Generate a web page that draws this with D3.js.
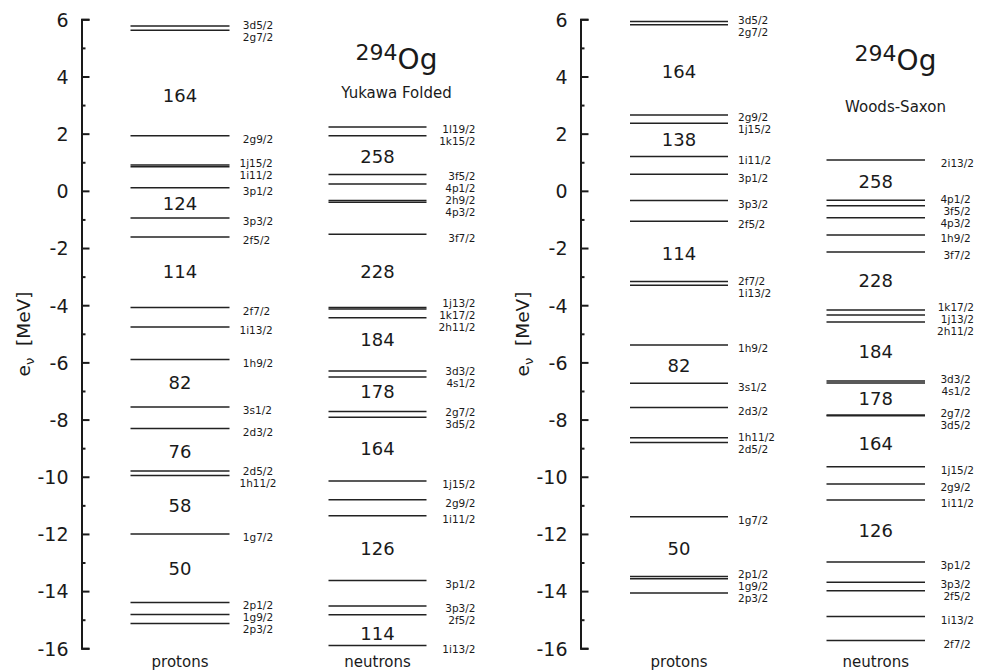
<!DOCTYPE html>
<html>
<head>
<meta charset="utf-8">
<script src="https://cdn.jsdelivr.net/npm/d3@7"></script>
<style>
  html, body { margin: 0; padding: 0; background: #fff; }
  svg { display: block; font-family: "DejaVu Sans", sans-serif; }
</style>
</head>
<body>
<svg id="chart" width="988" height="670"></svg>
<script>
// ---------------- DATA ----------------
const nucleus = { mass: "294", symbol: "Og" };
const models = ["Yukawa Folded", "Woods-Saxon"];
const columnTitles = ["protons", "neutrons"];
const yTicksMajor = [-16, -14, -12, -10, -8, -6, -4, -2, 0, 2, 4, 6];
const yTicksMinor = [-15, -13, -11, -9, -7, -5, -3, -1, 1, 3, 5];

// Yukawa Folded – protons
const protonNamesYF = ["3d5/2","2g7/2","2g9/2","1j15/2","1i11/2","3p1/2","3p3/2","2f5/2","2f7/2","1i13/2","1h9/2","3s1/2","2d3/2","2d5/2","1h11/2","1g7/2","2p1/2","1g9/2","2p3/2"];
const protonEnergyYF = [5.77,5.62,1.93,0.90,0.84,0.11,-0.95,-1.61,-4.08,-4.76,-5.90,-7.56,-8.31,-9.80,-9.96,-12.0,-14.40,-14.82,-15.13];
const protonMagicYF = [164,124,114,82,76,58,50];
const protonMagicEnergyYF = [3.35,-0.43,-2.83,-6.71,-9.12,-11.0,-13.2];

// Yukawa Folded – neutrons
const neutronNamesYF = ["1l19/2","1k15/2","3f5/2","4p1/2","2h9/2","4p3/2","3f7/2","1j13/2","1k17/2","2h11/2","3d3/2","4s1/2","2g7/2","3d5/2","1j15/2","2g9/2","1i11/2","3p1/2","3p3/2","2f5/2","1i13/2"];
const neutronEnergyYF = [2.23,1.93,0.57,0.24,-0.34,-0.40,-1.52,-4.08,-4.13,-4.44,-6.30,-6.51,-7.72,-7.92,-10.15,-10.80,-11.36,-13.63,-14.52,-14.83,-15.90];
const neutronMagicYF = [258,228,184,178,164,126,114];
const neutronMagicEnergyYF = [1.20,-2.83,-5.21,-7.02,-9.0,-12.5,-15.49];

// Woods-Saxon – protons
const protonNamesWS = ["3d5/2","2g7/2","2g9/2","1j15/2","1i11/2","3p1/2","3p3/2","2f5/2","2f7/2","1i13/2","1h9/2","3s1/2","2d3/2","1h11/2","2d5/2","1g7/2","2p1/2","1g9/2","2p3/2"];
const protonEnergyWS = [5.92,5.81,2.65,2.36,1.20,0.58,-0.34,-1.06,-3.17,-3.30,-5.39,-6.73,-7.58,-8.64,-8.80,-11.40,-13.49,-13.57,-14.07];
const protonMagicWS = [164,138,114,82,50];
const protonMagicEnergyWS = [4.17,1.78,-2.18,-6.11,-12.52];

// Woods-Saxon – neutrons
const neutronNamesWS = ["2i13/2","4p1/2","3f5/2","4p3/2","1h9/2","3f7/2","1k17/2","1j13/2","2h11/2","3d3/2","4s1/2","2g7/2","3d5/2","1j15/2","2g9/2","1i11/2","3p1/2","3p3/2","2f5/2","1i13/2","2f7/2"];
const neutronEnergyWS = [1.08,-0.33,-0.52,-0.94,-1.54,-2.14,-4.17,-4.34,-4.59,-6.65,-6.72,-7.84,-7.87,-9.65,-10.25,-10.81,-12.98,-13.69,-13.99,-14.89,-15.73];
const neutronMagicWS = [258,228,184,178,164,126];
const neutronMagicEnergyWS = [0.32,-3.12,-5.62,-7.28,-8.83,-11.89];

// ---------------- LAYOUT ----------------
const svg = d3.select("#chart");
const y = d3.scaleLinear().domain([-16, 6]).range([648.3, 19.3]);
const ink = "#1a1a1a";

const panels = [
  { ox: 81.5, model: models[0], subY: 93, titleY: 69,
    cols: [
      { names: protonNamesYF, energy: protonEnergyYF, magic: protonMagicYF, magicE: protonMagicEnergyYF,
        x0: 49, w: 99, lx: 158, anchor: "start", pad: "start" },
      { names: neutronNamesYF, energy: neutronEnergyYF, magic: neutronMagicYF, magicE: neutronMagicEnergyYF,
        x0: 247, w: 98, lx: 394, anchor: "end", pad: "none" }
    ] },
  { ox: 580.5, model: models[1], subY: 107, titleY: 70,
    cols: [
      { names: protonNamesWS, energy: protonEnergyWS, magic: protonMagicWS, magicE: protonMagicEnergyWS,
        x0: 49.5, w: 98, lx: 157.5, anchor: "start", pad: "none" },
      { names: neutronNamesWS, energy: neutronEnergyWS, magic: neutronMagicWS, magicE: neutronMagicEnergyWS,
        x0: 246, w: 98.5, lx: 393.5, anchor: "end", pad: "end" }
    ] }
];

// spread labels so they don't overlap
function spread(targets, gap) {
  const idx = targets.map((t, i) => i).sort((a, b) => targets[a] - targets[b]);
  let clusters = idx.map(i => ({ items: [i], sum: targets[i] }));
  const start = c => c.sum / c.items.length - (c.items.length - 1) * gap / 2;
  let changed = true;
  while (changed) {
    changed = false;
    for (let k = 1; k < clusters.length; k++) {
      const a = clusters[k - 1], b = clusters[k];
      if (start(a) + a.items.length * gap > start(b) + 1e-6) {
        a.items = a.items.concat(b.items);
        a.sum += b.sum;
        clusters.splice(k, 1);
        changed = true;
        break;
      }
    }
  }
  const out = new Array(targets.length);
  clusters.forEach(c => {
    const s = start(c);
    c.items.forEach((i, j) => out[i] = s + j * gap);
  });
  return out;
}

panels.forEach(p => {
  const g = svg.append("g").attr("transform", `translate(${p.ox},0)`);

  // axis
  const axis = d3.axisLeft(y).tickValues(yTicksMajor).tickSizeInner(-8).tickSizeOuter(-8).tickPadding(13)
    .tickFormat(d => String(d));
  const ag = g.append("g").call(axis);
  ag.select(".domain").attr("stroke", ink).attr("stroke-width", 2);
  ag.selectAll(".tick line").attr("stroke", ink).attr("stroke-width", 2);
  ag.selectAll(".tick text").attr("fill", ink).attr("font-size", 19)
    .attr("font-family", "DejaVu Sans, sans-serif").attr("dy", "0.36em");
  const mg = g.append("g").call(d3.axisLeft(y).tickValues(yTicksMinor).tickSize(-4).tickFormat(""));
  mg.select(".domain").remove();
  mg.selectAll(".tick line").attr("stroke", ink).attr("stroke-width", 2);

  // y label
  const yl = g.append("text")
    .attr("transform", `translate(-52,334) rotate(-90)`)
    .attr("text-anchor", "middle").attr("font-size", 18.5).attr("fill", ink)
    .style("white-space", "pre");
  yl.append("tspan").text("e");
  yl.append("tspan").attr("font-size", 13).attr("dy", 4).text("ν");
  yl.append("tspan").attr("dy", -4).text("  [MeV]");

  // title
  const t = g.append("text").attr("x", 315).attr("y", p.titleY).attr("text-anchor", "middle").attr("fill", ink);
  t.append("tspan").attr("font-size", 22).attr("dy", -9).text(nucleus.mass);
  t.append("tspan").attr("font-size", 28).attr("dy", 9).text(nucleus.symbol);
  g.append("text").attr("x", 315).attr("y", p.subY).attr("dy", "0.35em").attr("text-anchor", "middle")
    .attr("font-size", 15).attr("fill", ink).text(p.model);

  p.cols.forEach((c, ci) => {
    const cx = c.x0 + c.w / 2;
    // levels
    g.append("g").selectAll("line").data(c.energy).join("line")
      .attr("x1", c.x0).attr("x2", c.x0 + c.w)
      .attr("y1", d => y(d)).attr("y2", d => y(d))
      .attr("stroke", "#222").attr("stroke-width", 1.5);
    // labels
    const ly = spread(c.energy.map(e => y(e) + 3.5), 12);
    g.append("g").selectAll("text").data(c.names).join("text")
      .attr("x", c.lx).attr("y", (d, i) => ly[i]).attr("dy", "0.36em")
      .attr("text-anchor", c.anchor).attr("font-size", 10.5).attr("fill", ink)
      .style("white-space", "pre")
      .text(d => c.pad === "start" ? d.padStart(6) : c.pad === "end" ? d.padEnd(6) : d);
    // magic numbers
    g.append("g").selectAll("text").data(c.magic).join("text")
      .attr("x", cx).attr("y", (d, i) => y(c.magicE[i])).attr("dy", "0.36em")
      .attr("text-anchor", "middle").attr("font-size", 18).attr("fill", ink)
      .text(d => d);
    // column title
    g.append("text").attr("x", cx).attr("y", 662).attr("dy", "0.35em")
      .attr("text-anchor", "middle").attr("font-size", 15).attr("fill", ink).text(columnTitles[ci]);
  });
});
</script>
</body>
</html>
